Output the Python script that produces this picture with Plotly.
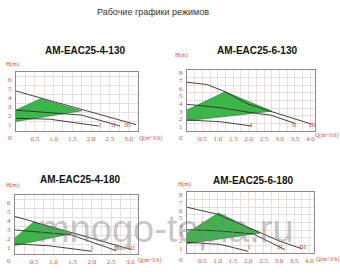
import plotly.graph_objects as go

W, H = 340, 278

# ---------------- data ----------------
main_title = "Рабочие графики режимов"
watermark = "mnogo-tepla.ru"
titles = ["AM-EAC25-4-130", "AM-EAC25-6-130", "AM-EAC25-4-180", "AM-EAC25-6-180"]
speed_names = ["I", "II", "III"]
h_label = "H(m)"
q_label = "Q(m^3/h)"

x_ticks_4m = [0.5, 1.0, 1.5, 2.0, 2.5, 3.0]
x_ticks_6m = [0.5, 1.0, 1.5, 2.0, 2.5, 3.0, 3.5, 4.0]
y_ticks_4m = [1, 2, 3, 4, 5, 6]
y_ticks_6m = [1, 2, 3, 4, 5, 6, 7, 8]

# panel 1: AM-EAC25-4-130
p1_I_q = [0, 0.9, 2.2]
p1_I_h = [1.4, 1.3, 0.55]
p1_II_q = [0, 1.75, 2.77]
p1_II_h = [2.3, 1.75, 0.55]
p1_III_q = [0, 3.2]
p1_III_h = [4.4, 0.7]
p1_zone_q = [0, 0.65, 1.75, 0]
p1_zone_h = [2.3, 3.55, 2.22, 1.05]
p1_label_q = [2.24, 2.6, 2.98]

# panel 2: AM-EAC25-6-130
p2_I_q = [0, 1.08, 2.1]
p2_I_h = [1.44, 1.22, 0.65]
p2_II_q = [0, 1.08, 2.26, 2.7, 3.5]
p2_II_h = [3.5, 3.05, 2.3, 2.1, 1.0]
p2_III_q = [0, 0.64, 1.24, 1.94, 2.7, 3.24, 4.04]
p2_III_h = [6.4, 6.1, 5.15, 3.6, 2.6, 1.9, 0.9]
p2_zone_q = [0, 1.24, 2.75, 0]
p2_zone_h = [2.75, 5.15, 2.6, 1.35]
p2_label_q = [2.1, 3.5, 4.1]

# panel 3: AM-EAC25-4-180
p3_I_q = [0, 0.9, 1.99]
p3_I_h = [1.12, 0.9, 0.3]
p3_II_q = [0, 1.47, 2.64]
p3_II_h = [2.65, 2.1, 0.36]
p3_III_q = [0, 3.03]
p3_III_h = [4.13, 0.49]
p3_zone_q = [0, 0.48, 1.47, 0]
p3_zone_h = [1.77, 3.5, 2.24, 0.93]
p3_label_q = [2.02, 2.64, 3.05]

# panel 4: AM-EAC25-6-180
p4_I_q = [0, 1.09, 2.0]
p4_I_h = [1.4, 1.13, 0.22]
p4_II_q = [0, 1.03, 2.17, 3.2]
p4_II_h = [3.06, 2.9, 2.5, 0.44]
p4_III_q = [0, 0.98, 2.17, 3.04, 3.75]
p4_III_h = [6.0, 5.1, 3.06, 1.53, 0.57]
p4_zone_q = [0, 1.03, 2.39, 0]
p4_zone_h = [2.62, 5.24, 2.62, 1.22]
p4_label_q = [2.05, 3.04, 3.78]

# ---------------- layout helpers ----------------
def px(x):
    return x / W

def py(y):
    return 1 - y / H

RED = "#d4524c"
LINE = "#2e2e2e"
GREEN = "#3db54a"
GRID = "#eadede"
FRAME = "#8a8a8a"
SERIF = "Liberation Serif, DejaVu Serif, serif"
SANS = "Liberation Sans, Arial, sans-serif"

panels = [
    dict(title=titles[0], box=(16, 138, 72, 131), xr=3.25, yr=6.5,
         xt=x_ticks_4m, yt=y_ticks_4m,
         curves=[(p1_I_q, p1_I_h), (p1_II_q, p1_II_h), (p1_III_q, p1_III_h)],
         zone=(p1_zone_q, p1_zone_h), labq=p1_label_q,
         title_xy=(85, 50), h_xy=(12, 64), q_xy=(150, 138)),
    dict(title=titles[1], box=(187, 315, 70, 131), xr=4.15, yr=8.0,
         xt=x_ticks_6m, yt=y_ticks_6m,
         curves=[(p2_I_q, p2_I_h), (p2_II_q, p2_II_h), (p2_III_q, p2_III_h)],
         zone=(p2_zone_q, p2_zone_h), labq=p2_label_q,
         title_xy=(257, 50), h_xy=(181, 56), q_xy=(326, 135)),
    dict(title=titles[2], box=(15, 138, 195, 254), xr=3.2, yr=6.5,
         xt=x_ticks_4m, yt=y_ticks_4m,
         curves=[(p3_I_q, p3_I_h), (p3_II_q, p3_II_h), (p3_III_q, p3_III_h)],
         zone=(p3_zone_q, p3_zone_h), labq=p3_label_q,
         title_xy=(80, 179), h_xy=(12, 185), q_xy=(149, 260)),
    dict(title=titles[3], box=(187, 314, 192, 253), xr=4.15, yr=8.0,
         xt=x_ticks_6m, yt=y_ticks_6m,
         curves=[(p4_I_q, p4_I_h), (p4_II_q, p4_II_h), (p4_III_q, p4_III_h)],
         zone=(p4_zone_q, p4_zone_h), labq=p4_label_q,
         title_xy=(253, 180), h_xy=(184, 184), q_xy=(327, 259)),
]

fig = go.Figure()
annotations = []

for i, p in enumerate(panels, start=1):
    xa = "x" if i == 1 else f"x{i}"
    ya = "y" if i == 1 else f"y{i}"
    x0, x1, y0, y1 = p["box"]
    # green operating zone
    zq, zh = p["zone"]
    fig.add_trace(go.Scatter(x=zq, y=zh, xaxis=xa, yaxis=ya, mode="lines",
                             fill="toself", fillcolor=GREEN,
                             line=dict(color="#2a7a33", width=0.6),
                             hoverinfo="skip", showlegend=False))
    for cq, ch in p["curves"]:
        fig.add_trace(go.Scatter(x=cq, y=ch, xaxis=xa, yaxis=ya, mode="lines",
                                 line=dict(color=LINE, width=0.9),
                                 hoverinfo="skip", showlegend=False))
    xkey = "xaxis" if i == 1 else f"xaxis{i}"
    ykey = "yaxis" if i == 1 else f"yaxis{i}"
    fig.layout[xkey] = dict(
        domain=[px(x0), px(x1)], anchor=ya, range=[0, p["xr"]],
        tickmode="array", tickvals=p["xt"], ticktext=[f"{v:.1f}" for v in p["xt"]],
        ticks="", showgrid=True, gridcolor=GRID, gridwidth=1,
        minor=dict(dtick=0.25, tick0=0, showgrid=True, gridcolor=GRID, gridwidth=1),
        showline=True, linecolor=FRAME, linewidth=1, mirror=True, zeroline=False,
        tickfont=dict(family=SERIF, size=7, color=RED), ticklabelstandoff=1,
        fixedrange=True)
    fig.layout[ykey] = dict(
        domain=[py(y1), py(y0)], anchor=xa, range=[0, p["yr"]],
        tickmode="array", tickvals=p["yt"], ticktext=[str(v) for v in p["yt"]],
        ticks="", showgrid=True, gridcolor=GRID, gridwidth=1,
        showline=True, linecolor=FRAME, linewidth=1, mirror=True, zeroline=False,
        tickfont=dict(family=SERIF, size=7, color=RED), ticklabelshift=3,
        ticklabelstandoff=2, fixedrange=True)
    # origin label
    annotations.append(dict(x=0, y=0, xref=xa, yref=ya, text="0", showarrow=False,
                            xanchor="right", yanchor="top", xshift=-2, yshift=-1,
                            font=dict(family=SERIF, size=7, color=RED)))
    # speed labels
    for q, name in zip(p["labq"], speed_names):
        annotations.append(dict(x=q, y=0, xref=xa, yref=ya, text=name, showarrow=False,
                                xanchor="center", yanchor="bottom", yshift=0,
                                font=dict(family=SERIF, size=7, color=RED)))
    tx, ty = p["title_xy"]
    annotations.append(dict(x=px(tx), y=py(ty), xref="paper", yref="paper",
                            text=f"<b>{p['title']}</b>", showarrow=False,
                            xanchor="center", yanchor="middle",
                            font=dict(family=SANS, size=10, color="#111111")))
    hx, hy = p["h_xy"]
    annotations.append(dict(x=px(hx), y=py(hy), xref="paper", yref="paper",
                            text=h_label, showarrow=False, xanchor="center",
                            yanchor="middle",
                            font=dict(family=SERIF, size=6, color=RED)))
    qx, qy = p["q_xy"]
    annotations.append(dict(x=px(qx), y=py(qy), xref="paper", yref="paper",
                            text=q_label, showarrow=False, xanchor="center",
                            yanchor="middle",
                            font=dict(family=SERIF, size=6, color=RED)))

annotations.append(dict(x=px(153), y=py(12), xref="paper", yref="paper",
                        text=main_title, showarrow=False, xanchor="center",
                        yanchor="middle",
                        font=dict(family=SANS, size=9, color="#333333")))
annotations.append(dict(x=px(166), y=py(229), xref="paper", yref="paper",
                        text=watermark, showarrow=False, xanchor="center",
                        yanchor="middle",
                        font=dict(family=SANS, size=38, color="rgba(130,130,130,0.45)")))

fig.update_layout(width=W, height=H, margin=dict(l=0, r=0, t=0, b=0),
                  paper_bgcolor="white", plot_bgcolor="white",
                  annotations=annotations, showlegend=False)

fig.write_html("out.html", config={"displayModeBar": False})
